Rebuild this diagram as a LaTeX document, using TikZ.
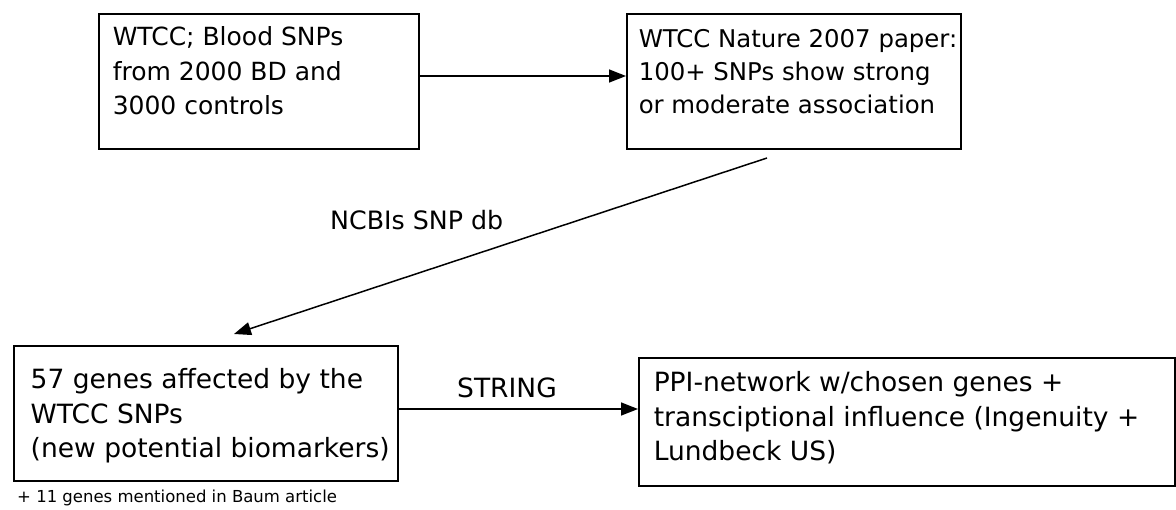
\documentclass[tikz,border=0pt]{standalone}
\usepackage{fontspec}
\setmainfont{DejaVu Sans}
\usetikzlibrary{arrows.meta,calc}
\tikzset{
  box/.style={draw, line width=1.5pt, inner sep=0pt, anchor=north west},
  arr/.style={line width=1.5pt, -{Triangle[length=17pt,width=13pt]}},
  lbl/.style={inner sep=0pt, anchor=base west}
}
\begin{document}
\begin{tikzpicture}[x=1pt,y=-1pt]
\useasboundingbox (0,0) rectangle (1176,509);
\node[box] (b1) at (98,13) {\parbox[c][135pt][t]{320pt}{\raggedright\leftskip=14pt\fontsize{25}{34.5}\selectfont\rule{0pt}{32pt}WTCC; Blood SNPs\\from 2000 BD and\\3000 controls}};
\node[box] (b2) at (626,13) {\parbox[c][135pt][t]{334pt}{\raggedright\leftskip=12pt\fontsize{24.4}{33}\selectfont\rule{0pt}{34pt}WTCC Nature 2007 paper:\\100+ SNPs show strong\\or moderate association}};
\node[box] (b3) at (13,345) {\parbox[c][135pt][t]{384pt}{\raggedright\leftskip=17pt\fontsize{26.5}{34.5}\selectfont\rule{0pt}{43pt}57 genes affected by the\\WTCC SNPs\\(new potential biomarkers)}};
\node[box] (b4) at (638,357) {\parbox[c][128pt][t]{536pt}{\raggedright\leftskip=15pt\fontsize{26.5}{34.5}\selectfont\rule{0pt}{34pt}PPI-network w/chosen genes +\\transciptional influence (Ingenuity +\\Lundbeck US)}};
\coordinate (y1) at (0,76);
\coordinate (y2) at (0,409);
\coordinate (ns) at (767,158);
\coordinate (nt) at (234,334);
\draw[arr] (b1.east |- y1) -- (b2.west |- y1);
\draw[arr] (ns) -- (nt);
\draw[arr] (b3.east |- y2) -- (b4.west |- y2);
\node[lbl] (l1) at (330,229) {\fontsize{25.3}{30}\selectfont NCBIs SNP db};
\node[inner sep=0pt, anchor=base] (l2) at (507,397) {\fontsize{26.5}{30}\selectfont STRING};
\node[lbl] (l3) at (17,502) {\fontsize{16.5}{20}\selectfont + 11 genes mentioned in Baum article};
\end{tikzpicture}
\end{document}
